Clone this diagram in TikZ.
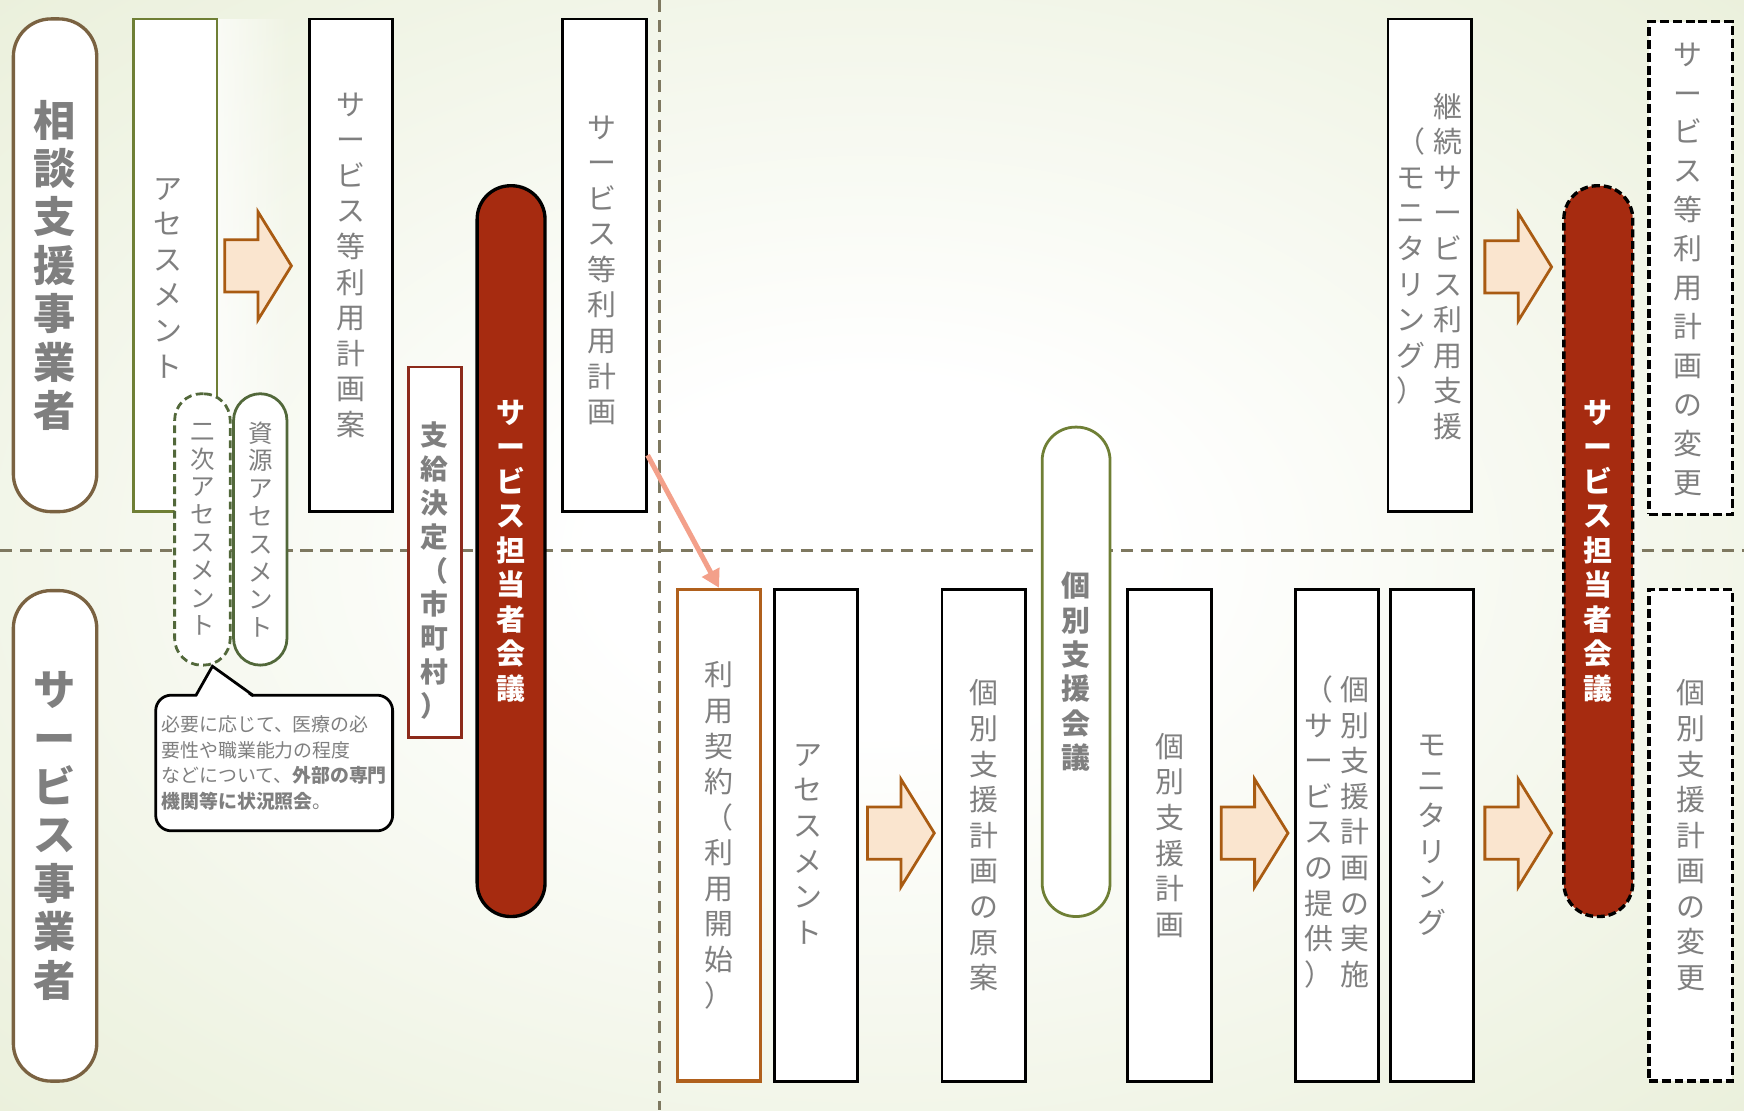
\documentclass[tikz,border=0pt]{standalone}
\usepackage{fontspec}
\setmainfont{Noto Sans CJK JP}
\usetikzlibrary{arrows.meta,fadings}
\ExplSyntaxOn
\cs_new:Npn \my_vitem:n #1 { \exp_not:n { \\ #1 } }
\tl_new:N \l_my_vs_tl
\NewDocumentCommand \vstack { m }
  {
    \tl_set:Nx \l_my_vs_tl { \tl_map_function:nN {#1} \my_vitem:n }
    \tl_set:Nx \l_my_vs_tl { \tl_tail:N \l_my_vs_tl }
    \l_my_vs_tl
  }
\ExplSyntaxOff
\definecolor{txtgray}{HTML}{7F7F7F}
\definecolor{lanebrown}{HTML}{7A6241}
\definecolor{olivegr}{HTML}{6F7F35}
\definecolor{dkgreen}{HTML}{52683A}
\definecolor{pillred}{HTML}{A62B10}
\definecolor{deepred}{HTML}{8C2A1A}
\definecolor{rust}{HTML}{B0601C}
\definecolor{arrowfill}{HTML}{FAE5CF}
\definecolor{arrowline}{HTML}{A95B12}
\definecolor{salmon}{HTML}{F3A08A}
\definecolor{dashgray}{HTML}{7E7860}
\definecolor{bggreen}{HTML}{E1E9CB}
\pgfdeclareradialshading{bgrad}{\pgfpoint{0bp}{0bp}}{color(0bp)=(white); color(8bp)=(white); color(30bp)=(bggreen!55!white); color(50bp)=(bggreen); color(100bp)=(bggreen)}
\newcommand\blockarrow[2]{\draw[barrow] (#1,#2-23.5) -- ++(30,0) -- ++(0,-25) -- (#1+60,#2) -- (#1+30,#2+48.5) -- ++(0,-25) -- (#1,#2+23.5) -- cycle;}
\begin{document}
\begin{tikzpicture}[x=1pt,y=-1pt,
  txtbase/.style={inner sep=0pt, align=center, text=txtgray},
  vbox/.style={txtbase, draw=black, fill=white, line width=2.5pt, minimum width=75pt, font=\fontsize{26}{32}\selectfont},
  dbox/.style={vbox, dash pattern=on 8pt off 3.5pt, line width=3pt},
  lane/.style={txtbase, draw=lanebrown, fill=white, line width=3pt, rounded corners=34pt, minimum width=75pt, font=\bfseries\fontsize{38}{43.5}\selectfont},
  redpill/.style={txtbase, draw=black, fill=pillred, line width=3pt, rounded corners=30pt, minimum width=61pt, text=white, font=\bfseries\fontsize{26}{31}\selectfont},
  smallpill/.style={txtbase, draw=dkgreen, fill=white, line width=2.5pt, rounded corners=24pt, minimum width=48pt, font=\fontsize{22}{25}\selectfont},
  vtext/.style={txtbase, font=\fontsize{26}{32}\selectfont},
  notebox/.style={txtbase, align=left, draw=black, fill=white, line width=2.5pt, rounded corners=14pt, font=\fontsize{17}{23}\selectfont},
  barrow/.style={draw=arrowline, fill=arrowfill, line width=2.5pt, line join=miter},
  divline/.style={draw=dashgray, line width=3pt, dash pattern=on 11pt off 7pt},
  conn/.style={draw=salmon, line width=4.5pt, -{Triangle[length=16pt,width=17pt]}},
]
\useasboundingbox (0,0) rectangle (1568,998);
\shade[shading=bgrad] (0,0) rectangle (1568,998);
\fill[white, path fading=east, opacity=0.7] (195,17) rectangle (262,460);

% divider lines
\coordinate (hl) at (0,495);
\coordinate (hr) at (1568,495);
\coordinate (vt) at (593,0);
\coordinate (vb) at (593,998);
\draw[divline] (hl) -- (hr);
\draw[divline] (vt) -- (vb);

% lane labels
\node[lane, minimum height=443pt] (lane1) at (49.5,238.5) {\vstack{相談支援事業者}};
\node[lane, minimum height=441pt] (lane2) at (49.5,751.5) {\vstack{サービス事業者}};

% top row
\node[vbox, draw=olivegr, minimum height=443pt] (asmt1) at (157.5,238.5) {};
\node[vtext] (asmt1t) at (151,250) {\vstack{アセスメント}};
\node[vbox, minimum height=443pt] (plan1) at (315.5,238.5) {\vstack{サービス等利用計画案}};
\node[vbox, draw=deepred, minimum width=48pt, minimum height=333pt] (kettei) at (391,496.5) {};
\node[vtext, font=\bfseries\fontsize{25}{30.5}\selectfont] (ketteit) at (391,513) {\vstack{支給決定（市町村）}};
\node[redpill, minimum height=657pt] (meet1) at (459.5,495.5) {\vstack{サービス担当者会議}};
\node[vbox, minimum height=443pt] (plan2) at (543.5,238.5) {};
\node[vtext] (plan2t) at (541,243) {\vstack{サービス等利用計画}};

% secondary assessments
\node[smallpill, dash pattern=on 7pt off 4pt, minimum width=50pt, minimum height=244pt] (niji) at (182,476) {\vstack{二次アセスメント}};
\node[smallpill, minimum height=244pt] (shigen) at (234,476) {\vstack{資源アセスメント}};

% callout
\node[notebox, minimum width=213pt, minimum height=122pt] (note) at (246.5,686)
  {必要に応じて、医療の必\\要性や職業能力の程度\\などについて、\textbf{外部の専門}\\\textbf{機関等に状況照会}。};
\coordinate (ptl) at (176,625.5);
\coordinate (ptip) at (191,599);
\coordinate (ptr) at (228,625.5);
\fill[white] (176,628) -- (ptip) -- (228,628) -- cycle;
\draw[line width=2.5pt, line join=miter] (ptl) -- (ptip) -- (ptr);

% bottom row
\node[vbox, draw=rust, line width=3pt, minimum height=442pt] (keiyaku) at (646.5,751) {\vstack{利用契約（利用開始）}};
\node[vbox, minimum height=442pt] (asmt2) at (733.5,751) {};
\node[vtext] (asmt2t) at (726,759) {\vstack{アセスメント}};
\node[vbox, minimum height=442pt] (gen) at (884.5,751) {\vstack{個別支援計画の原案}};
\node[redpill, draw=olivegr, fill=white, text=txtgray, line width=2.5pt, minimum height=440pt] (kaigi) at (967.5,604) {\vstack{個別支援会議}};
\node[vbox, minimum height=442pt] (kobetsu) at (1051.5,751) {\vstack{個別支援計画}};
\node[vbox, minimum height=442pt] (jisshi) at (1202,751) {};
\node[vtext] (jisshiR) at (1218.5,748) {\vstack{個別支援計画の実施}};
\node[vtext] (jisshiL) at (1185.5,748) {\vstack{（サービスの提供）}};
\node[vbox, minimum height=442pt] (monitor) at (1287.5,751) {\vstack{モニタリング}};

% right part
\node[vbox, minimum height=443pt] (keizoku) at (1285.5,238.5) {};
\node[vtext] (keizokuR) at (1302,239.5) {\vstack{継続サービス利用支援}};
\node[vtext] (keizokuL) at (1269,239.5) {\vstack{（モニタリング）}};
\node[redpill, dash pattern=on 7pt off 3.5pt, minimum width=62pt, minimum height=657pt] (meet2) at (1437,495.5) {\vstack{サービス担当者会議}};
\node[dbox, minimum height=443pt, font=\fontsize{26}{35}\selectfont] (henko1) at (1520,241) {};
\node[vtext, font=\fontsize{26}{35}\selectfont] (henko1t) at (1518,242) {\vstack{サービス等利用計画の変更}};
\node[dbox, minimum height=442pt] (henko2) at (1520,751) {\vstack{個別支援計画の変更}};

% block arrows
\blockarrow{202}{239}
\blockarrow{780}{749}
\blockarrow{1098}{749}
\blockarrow{1335}{749}
\blockarrow{1335}{240}

% connector
\draw[conn] ([yshift=52pt]plan2.south east) -- (keiyaku.north);
\end{tikzpicture}
\end{document}
